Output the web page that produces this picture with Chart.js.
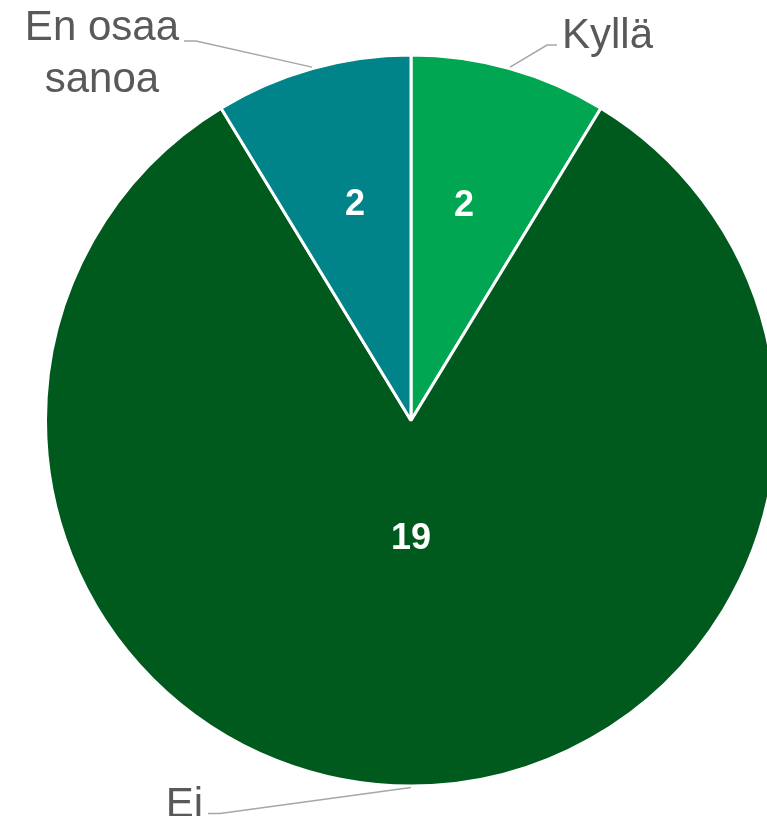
<!DOCTYPE html>
<html>
<head>
<meta charset="utf-8">
<script src="https://cdn.jsdelivr.net/npm/chart.js@4/dist/chart.umd.min.js"></script>
<style>
  html, body { margin: 0; padding: 0; background: #ffffff; overflow: hidden; width: 767px; height: 816px; }
  #wrap { position: absolute; left: 0; top: 0; width: 830px; height: 816px; }
</style>
</head>
<body>
<div id="wrap"><canvas id="c" width="830" height="816"></canvas></div>
<script>
// ---- data ----
const categories = ["Kyllä", "Ei", "En osaa sanoa"];
const categoryLines = [["Kyllä"], ["Ei"], ["En osaa", "sanoa"]];
const values = [2, 19, 2];
const colors = ["#00A651", "#005A1E", "#00848A"];

// ---- label styling (offsets from slice edge point, not data) ----
const leaderStyle = [
  { elbow: [37, -22], hLen: 10, side: "right" },
  { elbow: [-191, 26], hLen: -12, side: "left" },
  { elbow: [-116, -26], hLen: -12, side: "left" }
];
const innerPos = [
  { frac: 0.44, ratio: 0.61 },
  { frac: 0.5, ratio: 0.32 },
  { frac: 0.54, ratio: 0.615 }
];

const labelPlugin = {
  id: "pieLabels",
  afterDatasetsDraw(chart) {
    const ctx = chart.ctx;
    const meta = chart.getDatasetMeta(0);
    meta.data.forEach((arc, i) => {
      const p = arc.getProps(["x", "y", "startAngle", "endAngle", "outerRadius"], true);
      const mid = (p.startAngle + p.endAngle) / 2;
      const R = p.outerRadius + 1.5;
      // inner value labels
      const ia = p.startAngle + (p.endAngle - p.startAngle) * innerPos[i].frac;
      const ir = p.outerRadius * innerPos[i].ratio;
      ctx.save();
      ctx.fillStyle = "#ffffff";
      ctx.font = "bold 36px 'Liberation Sans', Arial, sans-serif";
      ctx.textAlign = "center";
      ctx.textBaseline = "middle";
      ctx.fillText(String(values[i]), p.x + Math.cos(ia) * ir, p.y + Math.sin(ia) * ir + 2);
      ctx.restore();

      // leader lines
      const ex = p.x + Math.cos(mid) * R;
      const ey = p.y + Math.sin(mid) * R;
      const st = leaderStyle[i];
      const bx = ex + st.elbow[0];
      const by = ey + st.elbow[1];
      const hx = bx + st.hLen;
      ctx.save();
      ctx.strokeStyle = "#A6A6A6";
      ctx.lineWidth = 1.5;
      ctx.beginPath();
      ctx.moveTo(ex, ey);
      ctx.lineTo(bx, by);
      ctx.lineTo(hx, by);
      ctx.stroke();
      ctx.restore();

      // category text
      ctx.save();
      ctx.fillStyle = "#595959";
      ctx.font = "42px 'Liberation Sans', Arial, sans-serif";
      ctx.textBaseline = "alphabetic";
      const lines = categoryLines[i];
      const lh = 52;
      const widths = lines.map(l => ctx.measureText(l).width);
      const maxW = Math.max(...widths);
      const baseY = by + 3 - (lines.length > 1 ? 4 : 0);
      lines.forEach((l, k) => {
        let left;
        if (st.side === "right") left = hx + 5;
        else left = hx - 5 - maxW;
        const cx = left + maxW / 2;
        ctx.textAlign = "center";
        ctx.fillText(l, cx, baseY + k * lh);
      });
      ctx.restore();
    });
  }
};

new Chart(document.getElementById("c"), {
  type: "pie",
  data: {
    labels: categories,
    datasets: [{
      data: values,
      backgroundColor: colors,
      borderColor: "#ffffff",
      borderWidth: 3
    }]
  },
  options: {
    responsive: false,
    devicePixelRatio: 1,
    animation: false,
    events: [],
    layout: { padding: { left: 44, top: 53, right: 52, bottom: 28 } },
    plugins: {
      legend: { display: false },
      tooltip: { enabled: false }
    }
  },
  plugins: [labelPlugin]
});
</script>
</body>
</html>
